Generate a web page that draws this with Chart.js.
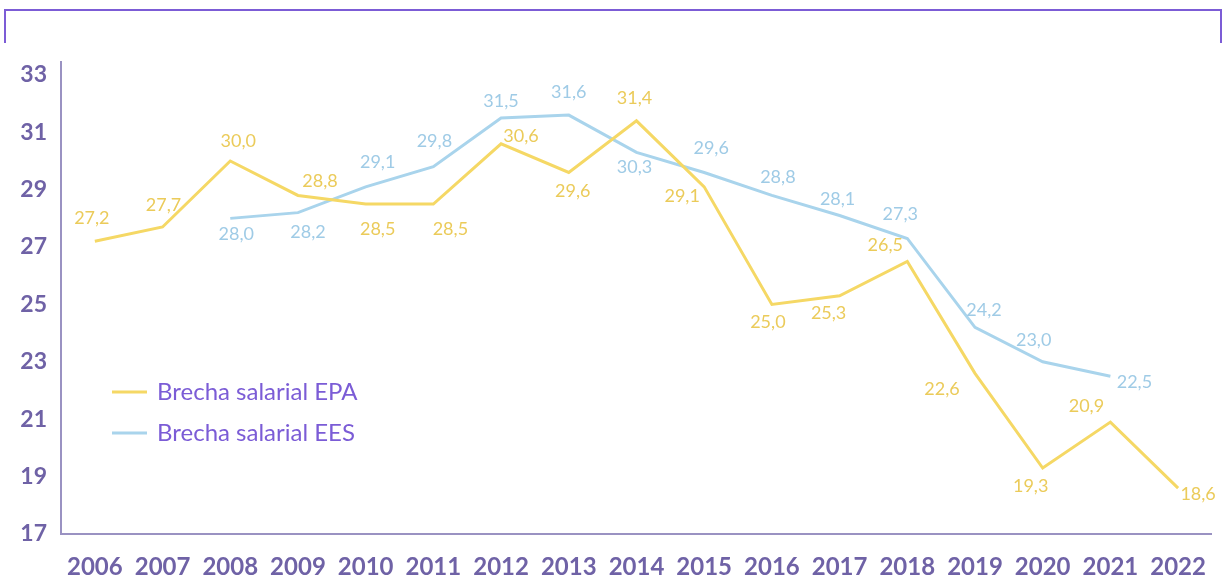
<!DOCTYPE html>
<html>
<head>
<meta charset="utf-8">
<script src="https://cdn.jsdelivr.net/npm/chart.js@4.4.0/dist/chart.umd.min.js"></script>
<style>
  html, body { margin: 0; padding: 0; background: #fff; }
  #wrap { position: relative; width: 1225px; height: 581px; }
  #bracket {
    position: absolute; left: 4px; top: 9px; width: 1214px; height: 32px;
    border-top: 2px solid #7c5cd6; border-left: 2px solid #7c5cd6; border-right: 2px solid #7c5cd6;
  }
  canvas { position: absolute; left: 0; top: 0; }
</style>
</head>
<body>
<div id="wrap">
  <div id="bracket"></div>
  <canvas id="chart" width="1225" height="581"></canvas>
</div>
<script>
// data
var years = ['2006','2007','2008','2009','2010','2011','2012','2013','2014','2015','2016','2017','2018','2019','2020','2021','2022'];
var brechaEPA = [27.2, 27.7, 30.0, 28.8, 28.5, 28.5, 30.6, 29.6, 31.4, 29.1, 25.0, 25.3, 26.5, 22.6, 19.3, 20.9, 18.6];
var brechaEES = [null, null, 28.0, 28.2, 29.1, 29.8, 31.5, 31.6, 30.3, 29.6, 28.8, 28.1, 27.3, 24.2, 23.0, 22.5, null];
var yTicks = [17, 19, 21, 23, 25, 27, 29, 31, 33];

// where each value label sits relative to its point [dx, dy]
var offsEPA = [[-3,-23],[1,-22],[8,-20],[22,-14],[12,25],[17,25],[20,-8],[4,19],[-2,-23],[-22,9],[-4,18],[-11,17],[-22,-16],[-33,16],[-12,18],[-24,-16],[20,6]];
var offsEES = [null,null,[6,16],[10,20],[12,-25],[1,-26],[0,-17],[0,-23],[-2,15],[7,-24],[6,-18],[-2,-16],[-7,-24],[9,-17],[-9,-22],[24,6],null];

var valueLabels = {
  id: 'valueLabels',
  afterDatasetsDraw: function (chart) {
    var ctx = chart.ctx;
    var offs = [offsEPA, offsEES];
    var cols = ['#ebcb5a', '#9fcbe6'];
    ctx.save();
    ctx.font = '18px Lato';
    ctx.textAlign = 'center';
    ctx.textBaseline = 'middle';
    chart.data.datasets.forEach(function (ds, di) {
      var meta = chart.getDatasetMeta(di);
      ctx.fillStyle = cols[di];
      meta.data.forEach(function (pt, i) {
        var v = ds.data[i];
        if (v === null || !offs[di][i]) return;
        ctx.fillText(v.toFixed(1).replace('.', ','), pt.x + offs[di][i][0], pt.y + offs[di][i][1]);
      });
    });
    ctx.restore();
  }
};

var innerLegend = {
  id: 'innerLegend',
  afterDraw: function (chart) {
    var ctx = chart.ctx;
    ctx.save();
    ctx.font = '24px Lato';
    ctx.textBaseline = 'middle';
    chart.data.datasets.forEach(function (ds, i) {
      var y = 392 + i * 41;
      ctx.strokeStyle = ds.borderColor;
      ctx.lineWidth = 3;
      ctx.beginPath();
      ctx.moveTo(112, y);
      ctx.lineTo(147, y);
      ctx.stroke();
      ctx.fillStyle = '#7b5cd6';
      ctx.fillText(ds.label, 157, y);
    });
    ctx.restore();
  }
};

new Chart(document.getElementById('chart'), {
  type: 'line',
  data: {
    labels: years,
    datasets: [
      { label: 'Brecha salarial EPA', data: brechaEPA, borderColor: '#f5d865', borderWidth: 3, pointRadius: 0, tension: 0 },
      { label: 'Brecha salarial EES', data: brechaEES, borderColor: '#a9d4ec', borderWidth: 3, pointRadius: 0, tension: 0 }
    ]
  },
  options: {
    responsive: false,
    animation: false,
    layout: { padding: { top: 62, right: 2, left: 0, bottom: 0 } },
    plugins: { legend: { display: false }, tooltip: { enabled: false } },
    scales: {
      x: {
        offset: true,
        grid: { display: false, drawTicks: false },
        border: { display: true, color: '#9a92c2', width: 2 },
        ticks: { color: '#6f62a6', font: { family: 'Lato', size: 24, weight: 'bold' }, padding: 19, maxRotation: 0, autoSkip: false },
        afterFit: function (s) { s.height = 47; }
      },
      y: {
        min: 17,
        max: 33.45,
        grid: { display: false, drawTicks: false },
        border: { display: true, color: '#9a92c2', width: 2 },
        afterBuildTicks: function (s) { s.ticks = yTicks.map(function (v) { return { value: v }; }); },
        ticks: { color: '#6f62a6', font: { family: 'Lato', size: 23, weight: 'bold' }, padding: 14 },
        afterFit: function (s) { s.width = 61; }
      }
    }
  },
  plugins: [valueLabels, innerLegend]
});
</script>
</body>
</html>
